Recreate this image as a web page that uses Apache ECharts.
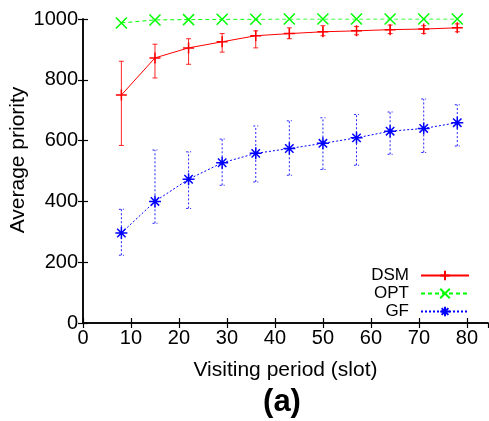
<!DOCTYPE html>
<html><head><meta charset="utf-8">
<script src="https://cdn.jsdelivr.net/npm/echarts@6/dist/echarts.min.js"></script>
<style>html,body{margin:0;padding:0;background:#fff;}#c{width:489px;height:421px;}</style>
</head><body><div id="c"></div>
<script>
const xValues = [8, 15, 22, 29, 36, 43, 50, 57, 64, 71, 78];
const dsmMean = [750, 872, 905, 925, 945, 952, 958, 961, 965, 967, 971];
const dsmLow  = [584, 806, 851, 891, 905, 935, 945, 948, 952, 952, 958];
const dsmHigh = [861, 917, 935, 952, 961, 971, 978, 975, 980, 978, 984];
const optMean = [987, 997, 998, 999, 999, 1000, 1000, 1000, 1000, 1000, 1000];
const gfMean  = [296, 400, 473, 527, 558, 574, 591, 609, 631, 640, 659];
const gfLow   = [223, 328, 377, 453, 464, 486, 505, 519, 555, 561, 582];
const gfHigh  = [374, 569, 563, 605, 648, 665, 675, 686, 694, 737, 718];
const xTicks = [0, 10, 20, 30, 40, 50, 60, 70, 80];
const yTicks = [0, 200, 400, 600, 800, 1000];
const seriesNames = ['DSM', 'OPT', 'GF'];
const xTitle = 'Visiting period (slot)';
const yTitle = 'Average priority';
const caption = '(a)';

const FONT = 'Liberation Sans, Arial, Helvetica, sans-serif';
const RED = '#ff0000', GREEN = '#00ff00', BLUE = '#0000ff';
const PLUS = 'path://M0,-10L0,10M-10,0L10,0';
const CROSS = 'path://M-10,-10L10,10M-10,10L10,-10';
const STAR = 'path://M0,-10L0,10M-10,0L10,0M-7,-7L7,7M-7,7L7,-7';

function pairs(ys) { return xValues.map((x, i) => [x, ys[i]]); }
function errData(lo, hi) { return xValues.map((x, i) => [x, lo[i], hi[i]]); }
function errRender(color, dash) {
  return function (params, api) {
    const x = api.value(0), lo = api.value(1), hi = api.value(2);
    const p1 = api.coord([x, lo]), p2 = api.coord([x, hi]);
    const w = 2.5;
    const st = { stroke: color, lineWidth: 1, lineDash: dash, opacity: 0.85 };
    return { type: 'group', children: [
      { type: 'line', shape: { x1: p1[0], y1: p1[1], x2: p2[0], y2: p2[1] }, style: st },
      { type: 'line', shape: { x1: p1[0] - w, y1: p1[1], x2: p1[0] + w, y2: p1[1] }, style: st },
      { type: 'line', shape: { x1: p2[0] - w, y1: p2[1], x2: p2[0] + w, y2: p2[1] }, style: st }
    ]};
  };
}

const xMax = 84.4;
const axisLineStyle = { color: '#000', width: 1.5 };
const tickStyle = { show: true, inside: true, length: 5, lineStyle: { color: '#000', width: 1.2 } };
const chart = echarts.init(document.getElementById('c'), null, { renderer: 'canvas' });
chart.setOption({
  animation: false,
  backgroundColor: '#fff',
  textStyle: { fontFamily: FONT },
  grid: { left: 83, top: 19, right: 1, bottom: 98, containLabel: false, outerBoundsMode: 'none' },
  legend: {
    orient: 'vertical', align: 'right', right: 19, top: 267, padding: 0,
    itemWidth: 48, itemHeight: 12, itemGap: 1,
    textStyle: { fontFamily: FONT, fontSize: 17, color: '#000', padding: [0, 7, 0, 0] },
    data: seriesNames
  },
  xAxis: [
    { type: 'value', min: 0, max: xMax, interval: 10, position: 'bottom',
      name: xTitle, nameLocation: 'middle', nameGap: 37, nameMoveOverlap: false,
      nameTextStyle: { fontFamily: FONT, fontSize: 21, color: '#000' },
      axisLine: { show: true, lineStyle: axisLineStyle },
      axisTick: tickStyle,
      axisLabel: { fontFamily: FONT, fontSize: 20, color: '#000', margin: 5, showMaxLabel: false,
        formatter: v => xTicks.includes(v) ? String(v) : '' },
      splitLine: { show: false } },
    { type: 'value', min: 0, max: xMax, interval: 10, position: 'top',
      axisLine: { show: true, lineStyle: axisLineStyle },
      axisTick: tickStyle,
      axisLabel: { show: false }, splitLine: { show: false } }
  ],
  yAxis: [
    { type: 'value', min: 0, max: 1000, interval: 200, position: 'left',
      axisLine: { show: true, lineStyle: axisLineStyle },
      axisTick: tickStyle,
      axisLabel: { fontFamily: FONT, fontSize: 20, color: '#000', margin: 5,
        formatter: v => yTicks.includes(v) ? String(v) : '' },
      splitLine: { show: false } },
    { type: 'value', min: 0, max: 1000, interval: 200, position: 'right',
      axisLine: { show: true, lineStyle: axisLineStyle },
      axisTick: tickStyle,
      axisLabel: { show: false }, splitLine: { show: false } }
  ],
  graphic: [
    { type: 'text', x: 18, y: 160, rotation: Math.PI / 2,
      style: { text: yTitle, font: '21px ' + FONT, fill: '#000', align: 'center', verticalAlign: 'middle' } },
    { type: 'text', x: 282, y: 402,
      style: { text: caption, font: 'bold 31px ' + FONT, fill: '#000', align: 'center', verticalAlign: 'middle' } }
  ],
  series: [
    { type: 'custom', name: 'DSMerr', renderItem: errRender(RED, null), data: errData(dsmLow, dsmHigh), z: 2, silent: true },
    { type: 'custom', name: 'GFerr', renderItem: errRender(BLUE, [2, 2]), data: errData(gfLow, gfHigh), z: 2, silent: true },
    { type: 'line', name: 'DSM', data: pairs(dsmMean), color: RED,
      symbol: PLUS, symbolSize: 11, showAllSymbol: true,
      lineStyle: { color: RED, width: 1, type: 'solid' },
      itemStyle: { color: RED, borderColor: RED, borderWidth: 1.5 }, z: 3 },
    { type: 'line', name: 'OPT', data: pairs(optMean), color: GREEN,
      symbol: CROSS, symbolSize: 11, showAllSymbol: true,
      lineStyle: { color: GREEN, width: 1, type: [4, 3] },
      itemStyle: { color: GREEN, borderColor: GREEN, borderWidth: 1.5 }, z: 3 },
    { type: 'line', name: 'GF', data: pairs(gfMean), color: BLUE,
      symbol: STAR, symbolSize: 12, showAllSymbol: true,
      lineStyle: { color: BLUE, width: 1, type: [2, 2] },
      itemStyle: { color: BLUE, borderColor: BLUE, borderWidth: 1.5 }, z: 3 }
  ]
});
</script>
</body></html>
